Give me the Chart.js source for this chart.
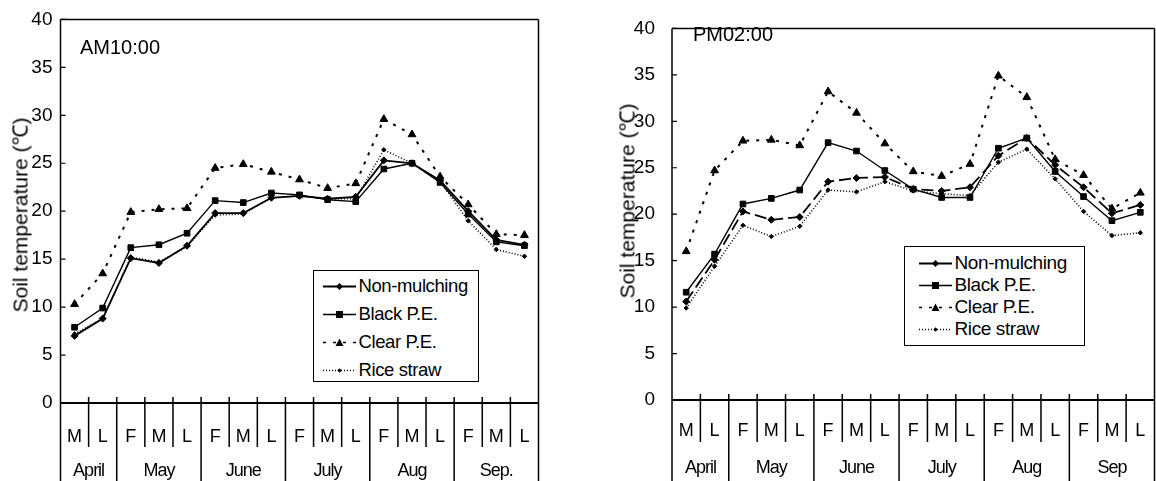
<!DOCTYPE html>
<html>
<head>
<meta charset="utf-8">
<script src="https://cdn.jsdelivr.net/npm/chart.js@4/dist/chart.umd.min.js"></script>
<style>
  html, body { margin: 0; padding: 0; background: #fff; }
  body { width: 1156px; height: 481px; position: relative; overflow: hidden;
         font-family: "Liberation Sans", Arial, sans-serif; color: #000; }
  canvas { position: absolute; top: 0; }
  .title { position: absolute; font-size: 20px; letter-spacing: 0px; line-height: 20px; }
  .ytitle { position: absolute; font-size: 21px; white-space: nowrap;
            transform: translate(-50%, -50%) rotate(-90deg); line-height: 21px; }
  .legend { position: absolute; border: 1.5px solid #000; background: #fff; box-sizing: border-box; }
  .legend .row { display: flex; align-items: center; white-space: nowrap; letter-spacing: -0.4px; }
  .legend svg { flex: none; }
</style>
</head>
<body>
<canvas id="am" width="580" height="481" style="left:0"></canvas>
<canvas id="pm" width="580" height="481" style="left:580px"></canvas>

<div class="title" style="left:80px; top:37px">AM10:00</div>
<div class="title" style="left:693px; top:24px">PM02:00</div>
<div class="ytitle" style="left:20px; top:215px">Soil temperature (℃)</div>
<div class="ytitle" style="left:627px; top:201px">Soil temperature (℃)</div>

<div class="legend" id="legAM" style="left:313px; top:270px; width:166px; height:112px; padding-top:1px; font-size:18.5px"></div>
<div class="legend" id="legPM" style="left:904px; top:246px; width:181px; height:100px; padding-top:5px; font-size:19px"></div>

<script>
// x categories: ten-day periods (F = first, M = middle, L = last)
const periods = ['M','L','F','M','L','F','M','L','F','M','L','F','M','L','F','M','L'];
const monthsAM = ['April','May','June','July','Aug','Sep.'];
const monthsPM = ['April','May','June','July','Aug','Sep'];
const monthSpans = [2,3,3,3,3,3];
const seriesNames = ['Non-mulching','Black P.E.','Clear P.E.','Rice straw'];
const yTicks = [0,5,10,15,20,25,30,35,40];

// AM 10:00
const nonMulchAM = [7.0, 8.8, 15.1, 14.6, 16.4, 19.8, 19.8, 21.4, 21.6, 21.3, 21.5, 25.3, 25.0, 23.2, 20.0, 17.0, 16.5];
const blackAM    = [7.9, 9.9, 16.2, 16.5, 17.7, 21.1, 20.9, 21.9, 21.7, 21.2, 21.0, 24.4, 25.0, 23.0, 19.7, 16.8, 16.4];
const clearAM    = [10.3, 13.5, 19.9, 20.2, 20.3, 24.5, 24.9, 24.1, 23.3, 22.4, 22.9, 29.6, 28.0, 23.6, 20.7, 17.6, 17.5];
const riceAM     = [7.2, 8.8, 15.2, 14.7, 16.3, 19.6, 19.7, 21.4, 21.6, 21.3, 21.3, 26.4, 25.0, 23.1, 19.0, 16.0, 15.3];

// PM 02:00
const nonMulchPM = [10.6, 15.1, 20.3, 19.4, 19.7, 23.5, 23.9, 24.0, 22.7, 22.5, 22.9, 26.3, 28.2, 25.3, 22.9, 20.1, 21.0];
const blackPM    = [11.6, 15.7, 21.1, 21.7, 22.6, 27.7, 26.8, 24.7, 22.7, 21.8, 21.8, 27.1, 28.2, 24.6, 21.9, 19.3, 20.2];
const clearPM    = [16.0, 24.7, 27.9, 28.0, 27.4, 33.2, 30.9, 27.6, 24.6, 24.1, 25.4, 34.9, 32.6, 25.9, 24.2, 20.6, 22.3];
const ricePM     = [9.9, 14.4, 18.8, 17.6, 18.7, 22.6, 22.4, 23.5, 22.5, 22.2, 22.0, 25.6, 27.0, 23.8, 20.3, 17.7, 18.0];

const styles = [
  { pointStyle: 'rectRot',  pointRadius: 3.5, borderWidth: 1.8, dash: [] },
  { pointStyle: 'rect',     pointRadius: 4,   borderWidth: 1.4, dash: [] },
  { pointStyle: 'triangle', pointRadius: 4.5, borderWidth: 2,   dash: [3, 7] },
  { pointStyle: 'rectRot',  pointRadius: 2.2, borderWidth: 1.6, dash: [1, 2] }
];

const axisDeco = {
  id: 'axisDeco',
  afterDraw(chart, args, o) {
    const ctx = chart.ctx, a = chart.chartArea, x = chart.scales.x, y = chart.scales.y;
    const H = chart.height;
    const w = x.getPixelForValue(1) - x.getPixelForValue(0);
    ctx.save();
    ctx.strokeStyle = '#000';
    ctx.lineWidth = 1.5;
    ctx.beginPath();
    ctx.moveTo(a.left, a.top); ctx.lineTo(a.right, a.top);
    ctx.moveTo(a.left, a.top); ctx.lineTo(a.left, H);
    ctx.moveTo(a.right, a.top); ctx.lineTo(a.right, H);
    ctx.stroke();

    ctx.lineWidth = 2;
    ctx.beginPath();
    ctx.moveTo(a.left, a.bottom); ctx.lineTo(a.right, a.bottom);
    ctx.stroke();

    // y ticks, pointing inward
    ctx.lineWidth = 1.2;
    ctx.beginPath();
    y.ticks.forEach(t => {
      const py = y.getPixelForValue(t.value);
      ctx.moveTo(a.left, py); ctx.lineTo(a.left + 5, py);
    });
    ctx.stroke();

    // category separators
    const monthEdges = [];
    let s = 0;
    monthSpans.forEach(n => { s += n; monthEdges.push(s); });
    ctx.lineWidth = 1.5;
    ctx.beginPath();
    for (let i = 1; i < periods.length; i++) {
      const bx = x.getPixelForValue(i) - w / 2;
      ctx.moveTo(bx, a.bottom - 6);
      ctx.lineTo(bx, monthEdges.includes(i) ? H : o.row1Bottom);
    }
    ctx.stroke();

    ctx.fillStyle = '#000';
    ctx.textAlign = 'center';
    ctx.textBaseline = 'middle';
    ctx.font = '18px "Liberation Sans", Arial';
    periods.forEach((t, i) => ctx.fillText(t, x.getPixelForValue(i), o.row1Y));
    ctx.font = '18px "Liberation Sans", Arial';
    ctx.letterSpacing = '-1px';
    let start = 0;
    o.months.forEach((m, k) => {
      const end = start + monthSpans[k] - 1;
      const cx = (x.getPixelForValue(start) + x.getPixelForValue(end)) / 2;
      ctx.fillText(m, cx, o.row2Y);
      start = end + 1;
    });
    ctx.restore();
  }
};

function makePanel(id, data, yWidth, pad, tickPad, deco, nonDash) {
  const datasets = data.map((d, i) => ({
    label: seriesNames[i],
    data: d,
    borderColor: '#000',
    backgroundColor: '#000',
    borderWidth: styles[i].borderWidth,
    borderDash: i === 0 ? nonDash : styles[i].dash,
    pointStyle: styles[i].pointStyle,
    pointRadius: styles[i].pointRadius,
    pointBorderWidth: 1,
    pointBackgroundColor: '#000',
    pointBorderColor: '#000',
    tension: 0
  }));
  return new Chart(document.getElementById(id), {
    type: 'line',
    data: { labels: periods, datasets: datasets },
    options: {
      responsive: false,
      animation: false,
      layout: { padding: pad },
      plugins: { legend: { display: false }, tooltip: { enabled: false }, axisDeco: deco },
      scales: {
        x: { type: 'category', offset: true, display: false },
        y: {
          min: 0, max: 40,
          afterFit: (sc) => { sc.width = yWidth; },
          afterBuildTicks: (sc) => { sc.ticks = yTicks.map(v => ({ value: v })); },
          grid: { display: false, drawTicks: false },
          border: { display: false },
          ticks: { color: '#000', padding: tickPad,
                   font: { family: '"Liberation Sans", Arial', size: 19 } }
        }
      }
    },
    plugins: [axisDeco]
  });
}

makePanel('am', [nonMulchAM, blackAM, clearAM, riceAM], 60.5,
  { top: 17, bottom: 78, right: 41.5, left: 0 }, 8,
  { row1Y: 437, row2Y: 471, row1Bottom: 447, months: monthsAM }, []);

makePanel('pm', [nonMulchPM, blackPM, clearPM, ricePM], 92,
  { top: 12, bottom: 81, right: 3, left: 0 }, 17,
  { row1Y: 431, row2Y: 468, row1Bottom: 442, months: monthsPM }, [12, 5]);

function buildLegend(id, rowH, lead, nonDash) {
  const box = document.getElementById(id);
  seriesNames.forEach((name, i) => {
    const st = styles[i];
    const dash = (i === 0 ? nonDash : st.dash).join(',');
    let mark;
    if (st.pointStyle === 'rect') mark = '<rect x="13" y="2" width="7" height="7"/>';
    else if (st.pointStyle === 'triangle') mark = '<polygon points="16.5,1.5 20.5,9 12.5,9"/>';
    else { const r = i === 0 ? 3.5 : 2.2; mark = `<polygon points="16.5,${5.5 - r} ${16.5 + r},5.5 16.5,${5.5 + r} ${16.5 - r},5.5"/>`; }
    const row = document.createElement('div');
    row.className = 'row';
    row.style.height = rowH + 'px';
    row.style.paddingLeft = lead + 'px';
    row.innerHTML = `<svg width="33" height="11" style="margin-right:3px">
      <line x1="0" y1="5.5" x2="33" y2="5.5" stroke="#000" stroke-width="${i === 0 ? 2.2 : 1.5}" ${dash ? `stroke-dasharray="${dash}"` : ''}/>
      ${mark}</svg><span>${name}</span>`;
    box.appendChild(row);
  });
}
buildLegend('legAM', 28, 8.5, []);
buildLegend('legPM', 22, 13.5, []);
</script>
</body>
</html>
